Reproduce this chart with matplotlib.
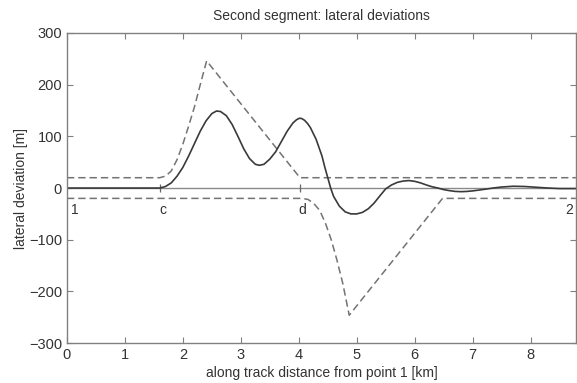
import matplotlib
matplotlib.use("Agg")
import matplotlib.pyplot as plt

# along-track distance [km] and lateral deviation [m] of the flown track
track_x = [0, 1.6, 1.7, 1.8, 1.9, 2.0, 2.1, 2.2, 2.3, 2.4, 2.5, 2.58, 2.65, 2.75,
           2.85, 2.95, 3.05, 3.15, 3.25, 3.32, 3.4, 3.5, 3.6, 3.7, 3.8, 3.9, 3.96,
           4.01, 4.05, 4.1, 4.15, 4.2, 4.3, 4.4, 4.45, 4.5, 4.55, 4.6, 4.7, 4.8, 4.9,
           5.0, 5.1, 5.2, 5.3, 5.4, 5.5, 5.6, 5.7, 5.8, 5.9, 6.0, 6.1, 6.2, 6.3,
           6.4, 6.5, 6.6, 6.7, 6.8, 6.9, 7.0, 7.1, 7.2, 7.35, 7.5, 7.7, 7.9, 8.1,
           8.3, 8.5, 8.78]
track_y = [0, 0, 3, 10, 23, 40, 62, 86, 110, 130, 144, 149, 148, 140,
           123, 100, 76, 57, 46, 44, 46, 56, 70, 90, 110, 126, 132,
           135, 134.5, 131, 125, 117, 94, 62, 40, 20, 0, -16, -35, -46, -50,
           -50, -47, -40, -29, -15, -1.5, 6, 11, 13.5, 14.5, 13, 10, 6, 2.5,
           0, -3, -5, -6.5, -7, -6.5, -5.5, -4, -2.5, 0, 2, 3.5, 3, 1.5,
           0, -1, -1]

# corridor limits (upper and lower bound) [m]
upper_x = [0, 1.6, 1.7, 1.8, 1.9, 2.0, 2.1, 2.2, 2.3, 2.41, 4.02, 8.78]
upper_y = [20, 20, 23, 33, 55, 85, 120, 157, 200, 246, 20, 20]
lower_x = [0, 4.05, 4.16, 4.26, 4.36, 4.46, 4.56, 4.66, 4.76, 4.87, 6.48, 8.78]
lower_y = [-20, -20, -22, -30, -43, -68, -100, -140, -185, -246, -20, -20]

# waypoints on the nominal route
point_names = ["1", "c", "d", "2"]
point_x = [0.0, 1.6, 4.02, 8.78]
label_x = [0.14, 1.66, 4.06, 8.67]

plt.rcParams["font.family"] = ["Liberation Sans", "DejaVu Sans"]
plt.rcParams["font.size"] = 10
text_col = "#333333"
grey = "#808080"

fig = plt.figure(figsize=(5.77, 3.83), dpi=100)
ax = fig.add_axes([0.116, 0.104, 0.882, 0.81])

# nominal route and waypoint ticks
ax.plot([0, 8.78], [0, 0], color="#8a8a8a", lw=1.0)
ax.plot(point_x[1:3], [0, 0], ls="none", marker="|", ms=6, mew=0.9, color="#666666")

ax.plot(upper_x, upper_y, color="#737373", lw=1.1, dashes=(4.8, 2.6))
ax.plot(lower_x, lower_y, color="#737373", lw=1.1, dashes=(4.8, 2.6))
ax.plot(track_x, track_y, color="#3a3a3a", lw=1.2)

for name, lx in zip(point_names, label_x):
    ax.text(lx, -42, name, ha="center", va="center", fontsize=10, color=text_col)

ax.set_xlim(0, 8.78)
ax.set_ylim(-300, 300)
ax.set_xticks(range(0, 9))
ax.set_yticks(range(-300, 301, 100))
ax.tick_params(direction="in", length=4, width=0.8, colors=grey,
               labelcolor=text_col, top=True, right=True, labelsize=10.5)
for s in ax.spines.values():
    s.set_color(grey)
    s.set_linewidth(1.0)

ax.set_title("Second segment: lateral deviations", fontsize=10, color=text_col, pad=9)
ax.set_xlabel("along track distance from point 1 [km]", fontsize=10, color=text_col, labelpad=3)
ax.set_ylabel("lateral deviation [m]", fontsize=10, color=text_col, labelpad=1)

fig.savefig("out.png", dpi=100)
plt.close(fig)
